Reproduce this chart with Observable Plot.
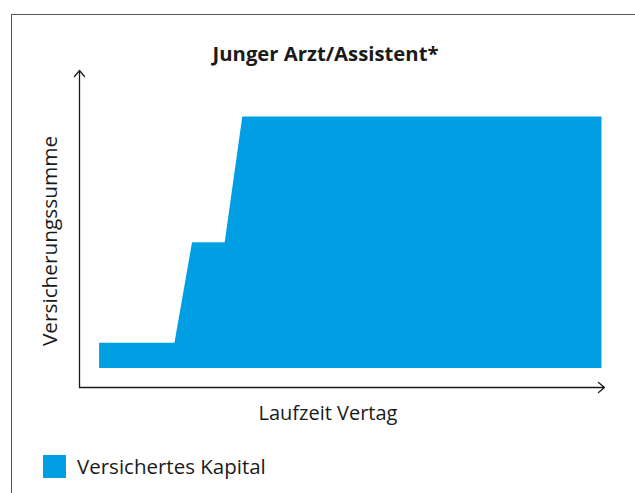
<!DOCTYPE html>
<html>
<head>
<meta charset="utf-8">
<script src="https://cdn.jsdelivr.net/npm/d3@7"></script>
<script src="https://cdn.jsdelivr.net/npm/@observablehq/plot@0.6"></script>
<style>
  html, body { margin: 0; padding: 0; background: #fff; overflow: hidden; }
  body { width: 635px; height: 493px; position: relative; font-family: "Open Sans", Lato, sans-serif; color: #1a1a1a; }
  #frame { position: absolute; left: 11px; top: 14px; width: 700px; height: 600px; border: 1px solid #555; box-sizing: border-box; }
  #title { position: absolute; left: 0; width: 651px; top: 40px; text-align: center; font-weight: bold; font-size: 20.3px; line-height: 26px; }
  #chart { position: absolute; left: 0; top: 0; }
  #legend { position: absolute; left: 43px; top: 455px; display: flex; align-items: center; font-size: 20.5px; line-height: 23px; }
  #legend .sw { width: 23px; height: 23px; background: #009fe3; margin-right: 11px; }
</style>
</head>
<body>
<div id="frame"></div>
<div id="title">Junger Arzt/Assistent*</div>
<div id="chart"></div>
<div id="legend"><span class="sw"></span><span>Versichertes Kapital</span></div>
<script>
// Contract duration (relative units) and insured sum levels
const laufzeit = [0, 15, 18.5, 25, 28.5, 100];
const summe    = [1, 1, 5, 5, 10, 10];
const seriesName = "Versichertes Kapital";
const xLabel = "Laufzeit Vertag";
const yLabel = "Versicherungssumme";
const xDomain = [-4, 100.5];
const yDomain = [-0.76, 11.85];

const data = laufzeit.map((x, i) => ({x, y: summe[i]}));
const axes = [
  {x1: xDomain[0], y1: yDomain[0], x2: xDomain[0], y2: yDomain[1]},
  {x1: xDomain[0], y1: yDomain[0], x2: xDomain[1], y2: yDomain[0]}
];

const chart = Plot.plot({
  width: 635,
  height: 440,
  marginLeft: 79,
  marginRight: 31,
  marginTop: 70,
  marginBottom: 53,
  x: {domain: xDomain, axis: null},
  y: {domain: yDomain, axis: null},
  style: {fontFamily: "'Open Sans', Lato, sans-serif", background: "transparent"},
  marks: [
    Plot.areaY(data, {x: "x", y1: 0, y2: "y", fill: "#009fe3"}),
    Plot.arrow(axes, {x1: "x1", y1: "y1", x2: "x2", y2: "y2", stroke: "#1a1a1a", strokeWidth: 1.3, headLength: 9, headAngle: 80, inset: 0}),
    Plot.text([yLabel], {text: d => d, frameAnchor: "left", textAnchor: "middle", rotate: -90, dx: -29, dy: 12, lineAnchor: "middle", fontSize: 20.8, fill: "#1a1a1a"}),
    Plot.text([xLabel], {text: d => d, frameAnchor: "bottom", textAnchor: "middle", dx: -14, dy: 26, lineAnchor: "middle", fontSize: 20, fill: "#1a1a1a"})
  ]
});
document.getElementById("chart").appendChild(chart);
</script>
</body>
</html>
